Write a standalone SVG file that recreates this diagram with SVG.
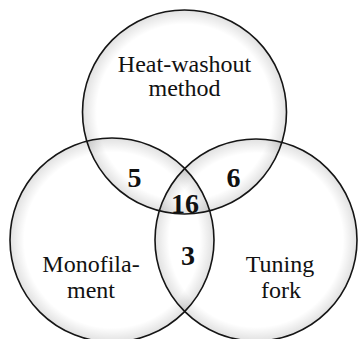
<svg xmlns="http://www.w3.org/2000/svg" width="360" height="339" viewBox="0 0 360 339">
<style>
.c{fill:url(#g);stroke:#151515;stroke-width:1.6}
.lbl{font-family:"Liberation Serif","Times New Roman",serif;font-size:24px;fill:#111;text-anchor:middle}
.num{font-family:"Liberation Serif","Times New Roman",serif;font-size:28px;font-weight:bold;fill:#111;text-anchor:middle}
</style>
<defs>
<radialGradient id="g" cx="0.5" cy="0.5" r="0.5">
<stop offset="0.86" stop-color="#000" stop-opacity="0"/>
<stop offset="1" stop-color="#000" stop-opacity="0.12"/>
</radialGradient>
</defs>
<rect width="360" height="339" fill="#fff"/>
<g id="heat-washout">
<circle class="c" cx="184.5" cy="112" r="102"/>
</g>
<g id="monofilament">
<circle class="c" cx="112" cy="240" r="102"/>
</g>
<g id="tuning-fork">
<circle class="c" cx="256" cy="240" r="101"/>
</g>
<g id="labels">
<text class="lbl" x="184.5" y="72">Heat-washout</text>
<text class="lbl" x="184.5" y="96">method</text>
<text class="lbl" x="91" y="272">Monofila-</text>
<text class="lbl" x="91" y="298">ment</text>
<text class="lbl" x="280" y="272">Tuning</text>
<text class="lbl" x="281" y="298">fork</text>
</g>
<g id="counts">
<text class="num" x="134.5" y="187">5</text>
<text class="num" x="233.5" y="187">6</text>
<text class="num" x="185" y="213">16</text>
<text class="num" x="188" y="265">3</text>
</g>
</svg>
